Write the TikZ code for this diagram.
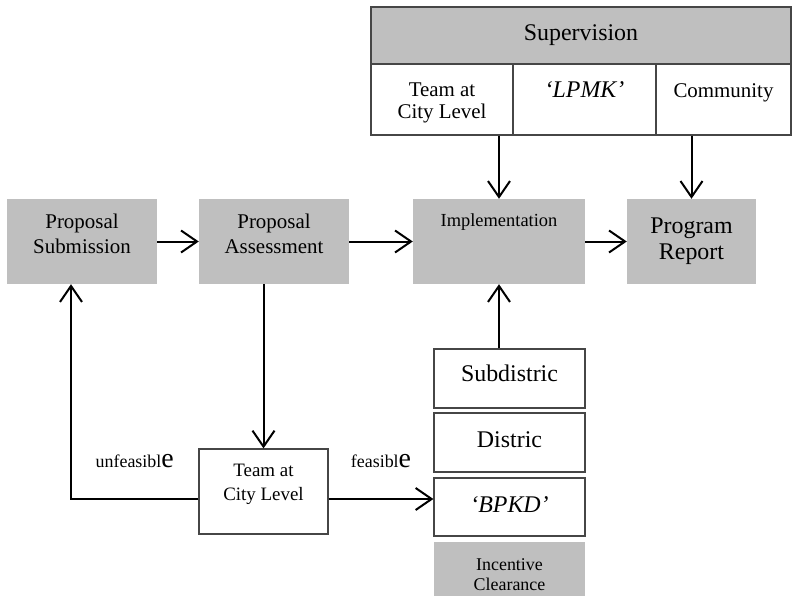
\documentclass[tikz,border=0pt]{standalone}
\usepackage{fontspec}
\setmainfont{Liberation Serif}
\usetikzlibrary{arrows.meta}
\definecolor{boxgray}{RGB}{191,191,191}
\definecolor{edgegray}{RGB}{70,70,70}

\begin{document}
\begin{tikzpicture}[
  graybox/.style={fill=boxgray,inner sep=0pt,align=center},
  whitebox/.style={draw=edgegray,line width=1.2bp,inner sep=0pt,align=center},
  arr/.style={-{Straight Barb[length=16bp,width=22bp]},line width=2bp},
  bigE/.style={font={\fontsize{18}{20}\selectfont}}
]
\useasboundingbox (0bp,0bp) rectangle (792bp,-605bp);

% main row
\node (sub) at (82bp,-241.5bp)[graybox,minimum width=150bp,minimum height=85bp,font={\fontsize{21}{25}\selectfont},text height=39bp,text depth=16bp] {Proposal\\Submission};
\node (assess) at (274bp,-241.5bp)[graybox,minimum width=150bp,minimum height=85bp,font={\fontsize{21}{25}\selectfont},text height=39bp,text depth=16bp] {Proposal\\Assessment};
\node (impl) at (499bp,-241.5bp)[graybox,minimum width=172bp,minimum height=85bp,font={\fontsize{18.5}{22}\selectfont},text height=13bp,text depth=44bp] {Implementation};
\node (report) at (691.5bp,-241.5bp)[graybox,minimum width=129bp,minimum height=85bp,font={\fontsize{24}{26}\selectfont}] {Program\\Report};

% supervision table
\node (superv) at (581bp,-35.5bp)[graybox,draw=edgegray,line width=1.2bp,minimum width=420bp,minimum height=57bp,font={\fontsize{24}{26}\selectfont}] {Supervision};
\node (cteam) at (442bp,-99.5bp)[whitebox,minimum width=142bp,minimum height=71bp,font={\fontsize{21}{21.7}\selectfont},text height=37bp,text depth=0bp] {Team at\\City Level};
\node (clpmk) at (584.5bp,-99.5bp)[whitebox,minimum width=143bp,minimum height=71bp,font={\fontsize{24}{26}\selectfont},text height=16bp,text depth=21bp] {\textit{`LPMK'}};
\node (ccomm) at (723.5bp,-99.5bp)[whitebox,minimum width=135bp,minimum height=71bp,font={\fontsize{21}{22}\selectfont},text height=14bp,text depth=19bp] {Community};

% stack below implementation
\node (subd) at (509.5bp,-378.5bp)[whitebox,minimum width=151bp,minimum height=59bp,font={\fontsize{24}{26}\selectfont},text height=16.4bp,text depth=10bp] {Subdistric};
\node (distric) at (509.5bp,-442.5bp)[whitebox,minimum width=151bp,minimum height=59bp,font={\fontsize{24}{26}\selectfont},text height=16bp,text depth=6bp] {Distric};
\node (bpkd) at (509.5bp,-507bp)[whitebox,minimum width=151bp,minimum height=58bp,font={\fontsize{24}{26}\selectfont},text height=16bp,text depth=6bp] {\textit{`BPKD'}};
\node (incent) at (509.5bp,-569bp)[graybox,minimum width=151bp,minimum height=54bp,font={\fontsize{18}{19.3}\selectfont},text height=42bp,text depth=0bp] {Incentive\\Clearance};

% team at city level
\node (teamb) at (263.5bp,-491.5bp)[whitebox,minimum width=129bp,minimum height=85bp,font={\fontsize{19}{23.3}\selectfont},text height=36bp,text depth=19bp] {Team at\\City Level};

\draw [arr] (sub) -- (assess);
\draw [arr] (assess) -- (impl);
\draw [arr] (impl) -- (report);
\draw [arr] (cteam.south -| impl.north) -- (impl.north);
\draw [arr] (ccomm.south -| report.north) -- (report.north);
\draw [arr] (subd.north -| impl.south) -- (impl.south);
\draw [arr] (assess.south -| teamb.north) -- (teamb.north);
\draw [arr] ([yshift=-7.5bp]teamb.west) -| node (unf)[pos=0.25,anchor=base,yshift=32bp,bigE] {unfeasibl{\fontsize{28}{28}\selectfont e}} ([xshift=-11bp]sub.south);
\draw [arr] ([yshift=-7.5bp]teamb.east) -- node (feas)[anchor=base,yshift=32bp,bigE] {feasibl{\fontsize{28}{28}\selectfont e}} ([yshift=-7.5bp]teamb.east -| bpkd.west);
\end{tikzpicture}
\end{document}
